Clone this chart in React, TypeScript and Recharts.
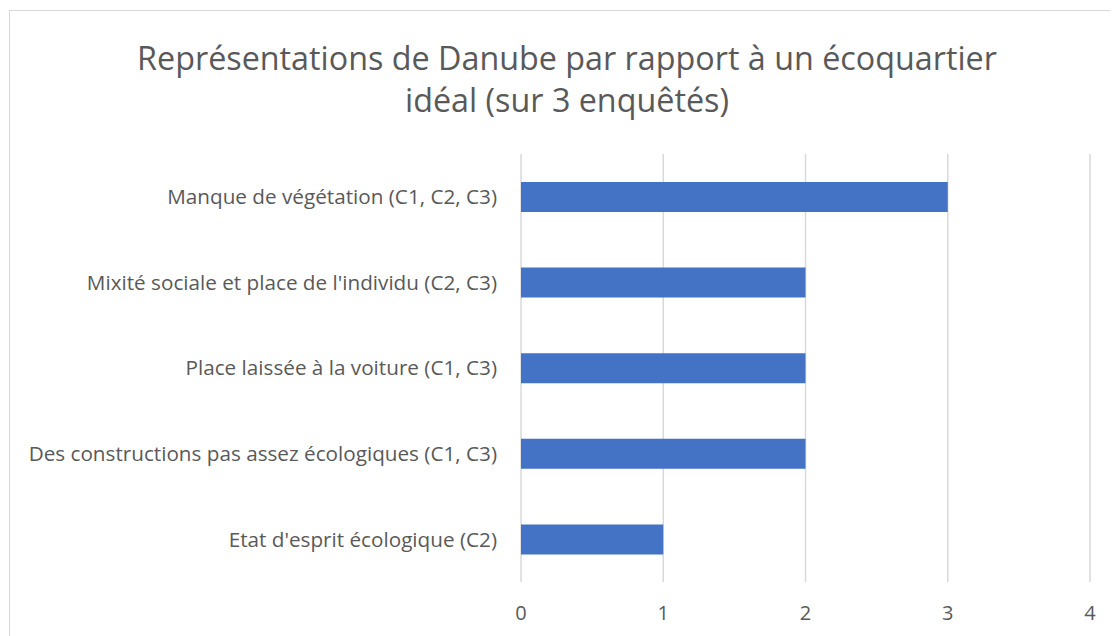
import React from "react";
import { BarChart, Bar, XAxis, YAxis, CartesianGrid } from "recharts";

const categories = [
  "Manque de végétation (C1, C2, C3)",
  "Mixité sociale et place de l'individu (C2, C3)",
  "Place laissée à la voiture (C1, C3)",
  "Des constructions pas assez écologiques (C1, C3)",
  "Etat d'esprit écologique (C2)",
];
const counts = [3, 2, 2, 2, 1];
const xTicks = [0, 1, 2, 3, 4];
const titleLines = [
  "Représentations de Danube par rapport à un écoquartier",
  "idéal (sur 3 enquêtés)",
];

const data = categories.map((c, i) => ({ name: c, value: counts[i] }));

const FONT = "'Open Sans', 'Noto Sans', sans-serif";
const TEXT = "#595959";

export default function App() {
  return (
    <div style={{ paddingLeft: 1, paddingTop: 2 }}>
      <div
        style={{
          position: "relative",
          width: 1114,
          height: 638,
          border: "1px solid #d9d9d9",
          background: "#fff",
          fontFamily: FONT,
        }}
      >
        <div
          style={{
            position: "absolute",
            top: 25,
            left: 0,
            width: 1114,
            textAlign: "center",
            fontSize: 32.3,
            lineHeight: "42px",
            color: TEXT,
          }}
        >
          {titleLines.map((t) => (
            <div key={t}>{t}</div>
          ))}
        </div>
        <BarChart
          width={1114}
          height={638}
          data={data}
          layout="vertical"
          margin={{ top: 143, right: 34, left: 0, bottom: 27 }}
        >
          <CartesianGrid horizontal={false} stroke="#d9d9d9" strokeWidth={1.5} />
          <XAxis
            type="number"
            domain={[0, 4]}
            ticks={xTicks}
            axisLine={false}
            tickLine={false}
            tickSize={0}
            tickMargin={24}
            height={40}
            tick={{ fill: TEXT, fontSize: 20, fontFamily: FONT }}
          />
          <YAxis
            type="category"
            dataKey="name"
            width={511}
            axisLine={false}
            tickLine={false}
            tickSize={0}
            tickMargin={24}
            tick={{ fill: TEXT, fontSize: 20.7, fontFamily: FONT }}
          />
          <Bar dataKey="value" fill="#4472C4" barSize={30} isAnimationActive={false} />
        </BarChart>
      </div>
    </div>
  );
}
